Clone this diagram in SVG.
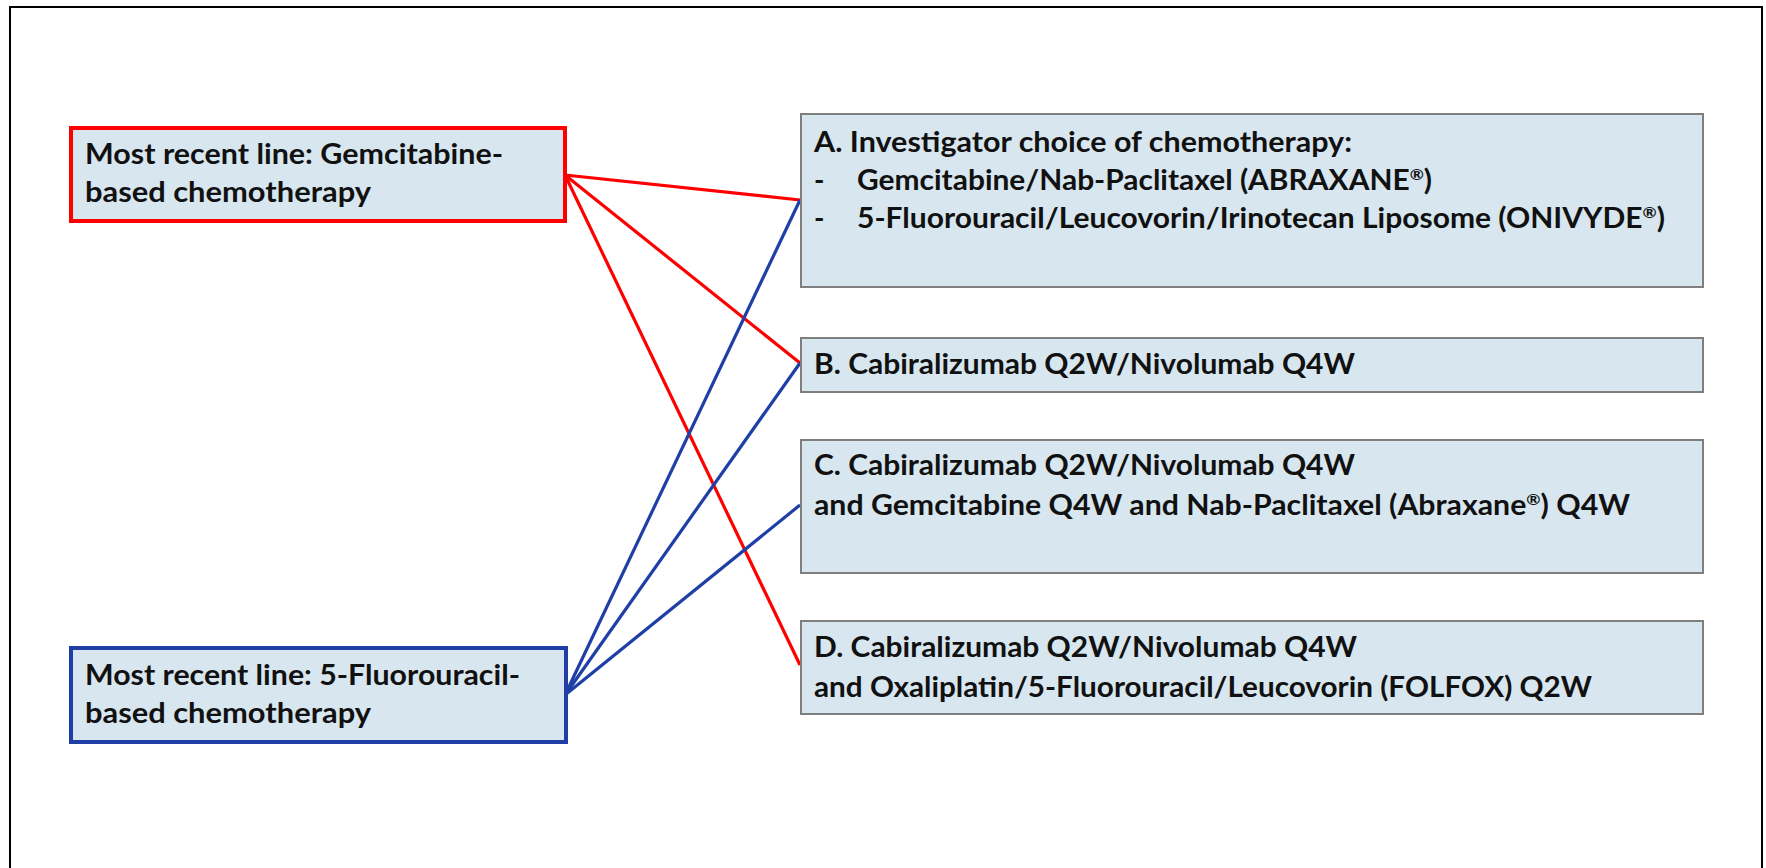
<svg xmlns="http://www.w3.org/2000/svg" width="1766" height="868" viewBox="0 0 1766 868">
<style>
.t{font-family:Lato,"Liberation Sans",sans-serif;font-weight:bold;font-size:28px;fill:#111}
.box{fill:#d7e6ef;stroke:#7f7f7f;stroke-width:2}
.r{stroke:#ff0000;stroke-width:3.2;fill:none}
.b{stroke:#1f3fa6;stroke-width:3.2;fill:none}
.sup{font-size:16px}
</style>
<rect x="0" y="0" width="1766" height="868" fill="#ffffff"/>
<rect x="10" y="7" width="1752" height="875" fill="none" stroke="#000" stroke-width="2"/>
<g id="connectors">
<line class="r" x1="565" y1="175" x2="800" y2="200"/>
<line class="r" x1="565" y1="175" x2="800" y2="363"/>
<line class="r" x1="565" y1="175" x2="800" y2="665"/>
<line class="b" x1="565" y1="695" x2="800" y2="200"/>
<line class="b" x1="565" y1="695" x2="800" y2="363"/>
<line class="b" x1="565" y1="695" x2="800" y2="505"/>
</g>
<g id="src-gem">
<rect x="71" y="128" width="494" height="93" fill="#d7e6ef" stroke="#ff0000" stroke-width="4"/>
<text class="t" x="85" y="164" textLength="418" lengthAdjust="spacingAndGlyphs">Most recent line: Gemcitabine-</text>
<text class="t" x="85" y="202" textLength="286" lengthAdjust="spacingAndGlyphs">based chemotherapy</text>
</g>
<g id="src-fu">
<rect x="71" y="648" width="495" height="94" fill="#d7e6ef" stroke="#1f3fa6" stroke-width="4"/>
<text class="t" x="85" y="685" textLength="435" lengthAdjust="spacingAndGlyphs">Most recent line: 5-Fluorouracil-</text>
<text class="t" x="85" y="723" textLength="286" lengthAdjust="spacingAndGlyphs">based chemotherapy</text>
</g>
<g id="arm-a">
<rect class="box" x="801" y="114" width="902" height="173"/>
<text class="t" x="814" y="152" textLength="538" lengthAdjust="spacingAndGlyphs">A. Investigator choice of chemotherapy:</text>
<text class="t" x="814" y="190">-</text>
<text class="t" x="857" y="190" textLength="575" lengthAdjust="spacingAndGlyphs">Gemcitabine/Nab-Paclitaxel (ABRAXANE<tspan class="sup" dy="-10">®</tspan><tspan dy="10">)</tspan></text>
<text class="t" x="814" y="228">-</text>
<text class="t" x="857" y="228" textLength="808" lengthAdjust="spacingAndGlyphs">5-Fluorouracil/Leucovorin/Irinotecan Liposome (ONIVYDE<tspan class="sup" dy="-10">®</tspan><tspan dy="10">)</tspan></text>
</g>
<g id="arm-b">
<rect class="box" x="801" y="338" width="902" height="54"/>
<text class="t" x="814" y="374" textLength="541" lengthAdjust="spacingAndGlyphs">B. Cabiralizumab Q2W/Nivolumab Q4W</text>
</g>
<g id="arm-c">
<rect class="box" x="801" y="440" width="902" height="133"/>
<text class="t" x="814" y="475" textLength="541" lengthAdjust="spacingAndGlyphs">C. Cabiralizumab Q2W/Nivolumab Q4W</text>
<text class="t" x="814" y="515" textLength="816" lengthAdjust="spacingAndGlyphs">and Gemcitabine Q4W and Nab-Paclitaxel (Abraxane<tspan class="sup" dy="-10">®</tspan><tspan dy="10">) Q4W</tspan></text>
</g>
<g id="arm-d">
<rect class="box" x="801" y="621" width="902" height="93"/>
<text class="t" x="814" y="657" textLength="543" lengthAdjust="spacingAndGlyphs">D. Cabiralizumab Q2W/Nivolumab Q4W</text>
<text class="t" x="814" y="697" textLength="778" lengthAdjust="spacingAndGlyphs">and Oxaliplatin/5-Fluorouracil/Leucovorin (FOLFOX) Q2W</text>
</g>
</svg>
